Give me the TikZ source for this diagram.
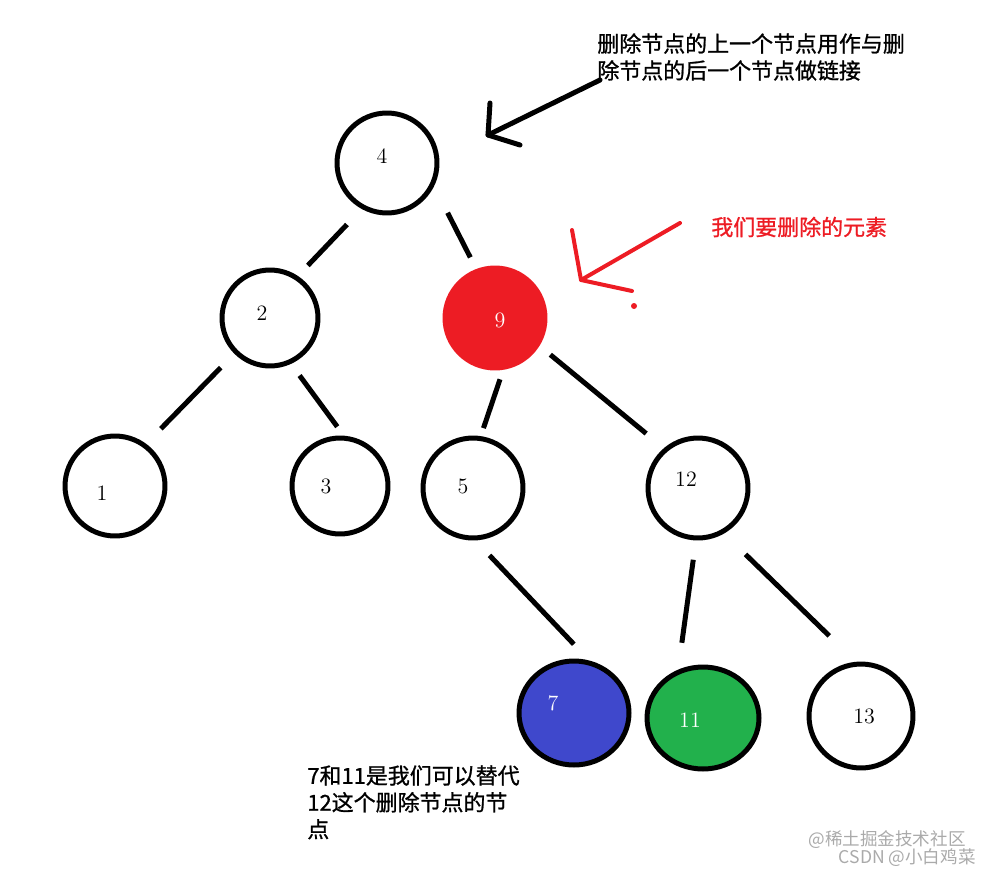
\documentclass[tikz,border=0pt]{standalone}
\usepackage{fontspec}
\usepackage{xcolor}
\usepackage{tikz}
\usetikzlibrary{shapes.geometric}
\newfontfamily\cjk[FakeBold=1]{Noto Sans CJK SC}
\newfontfamily\cjkthin{Noto Sans CJK SC}
\definecolor{paintred}{RGB}{237,28,36}
\definecolor{paintblue}{RGB}{63,72,204}
\definecolor{paintgreen}{RGB}{34,177,76}
\definecolor{markgray}{RGB}{170,170,170}

\begin{document}
\begin{tikzpicture}[x=0.02cm, y=-0.02cm,
        tnode/.style={circle, draw=black, line width=0.1cm, outer sep=0pt, inner sep=0pt},
        enode/.style={ellipse, draw=black, line width=0.1cm, outer sep=0pt, inner sep=0pt},
        edge/.style={line width=0.1cm},
        pen/.style={line width=0.1cm, line cap=round, line join=round},
        num/.style={font=\fontsize{12.5}{14}\selectfont, inner sep=0pt},
        note/.style={font=\cjk\fontsize{12.5}{15.3}\selectfont, align=left, inner sep=0pt}]
        \useasboundingbox (0,0) rectangle (990,875);

        % Plain nodes of the tree
        \foreach \n/\x/\y/\r in {4/387/163/50, 2/270/318/48, 1/115/486/50, 3/340/486/48,
                                 5/473/488/50, 12/698/488/50, 13/861/716/52}
            \node[tnode, minimum size=\r*0.04cm] (n\n) at (\x,\y) {};

        % The node to delete and its two candidates
        \node[circle, fill=paintred, minimum size=2.1cm, inner sep=0pt, outer sep=0pt] (n9) at (495,318) {};
        \node[enode, fill=paintblue, minimum width=2.2cm, minimum height=2.08cm] (n7) at (574,713) {};
        \node[enode, fill=paintgreen, minimum width=2.24cm, minimum height=2.04cm] (n11) at (703,718) {};

        % Keys, a bit off centre as in the sketch
        \foreach \n/\x/\y in {4/382/156, 2/262/313, 1/102/493, 3/326/486, 5/463/486, 12/686/479, 13/864/716}
            \node[num] (l\n) at (\x,\y) {\n};
        \foreach \n/\x/\y in {9/500/320, 7/553/703, 11/690/720}
            \node[num, white] (l\n) at (\x,\y) {\n};

        % Edges (short strokes between the circles)
        \foreach \a/\b/\s/\e in {n4.242/n2.57/0.48/0.34, n4.336/n9.111/0.66/0.26,
                                 n2.225/n1.54/0.44/0.47, n2.294/n3.83/0.34/0.29,
                                 n9.279/n5.82/0.20/0.22, n9.328/n12.130/0.28/0.51,
                                 n5.270/n7.69/0.48/0.55, n12.268/n11.119/0.44/0.60,
                                 n12.299/n13.93/0.65/0.81}
            \draw[edge, shorten <=\s cm, shorten >=\e cm] (\a) -- (\b);

        % Note on the parent, with hand drawn arrow
        \node[note, anchor=north west] (parentnote) at (597,33)
            {删除节点的上一个节点用作与删\\除节点的后一个节点做链接};
        \coordinate (tailA) at (600,80);
        \coordinate (tipA) at (488,135);
        \coordinate (barbA1) at (490,103);
        \coordinate (barbA2) at (520,145);
        \draw[pen] (tailA) -- (tipA);
        \draw[pen] (barbA1) -- (tipA) -- (barbA2);

        % Note on the node to delete, red arrow
        \node[note, anchor=west, paintred] (delnote) at (711,227) {我们要删除的元素};
        \coordinate (tailB) at (680,223);
        \coordinate (tipB) at (581,280);
        \coordinate (barbB1) at (572,230);
        \coordinate (barbB2) at (632,291);
        \draw[pen, paintred, line width=0.08cm] (tailB) -- (tipB);
        \draw[pen, paintred, line width=0.08cm] (barbB1) -- (tipB) -- (barbB2);
        \fill[paintred] (634,306) circle (3);

        % Note on the candidates
        \node[note, anchor=north west] (candnote) at (307,765)
            {7和11是我们可以替代\\12这个删除节点的节\\点};

        % Watermark
        \node[font=\cjkthin\fontsize{10}{12}\selectfont, markgray, anchor=east, inner sep=0pt] (wm1) at (966,840) {@稀土掘金技术社区};
        \node[font=\cjkthin\fontsize{10}{12}\selectfont, markgray, anchor=east, inner sep=0pt] (wm2) at (976,858) {CSDN @小白鸡菜};
    \end{tikzpicture}
\end{document}
